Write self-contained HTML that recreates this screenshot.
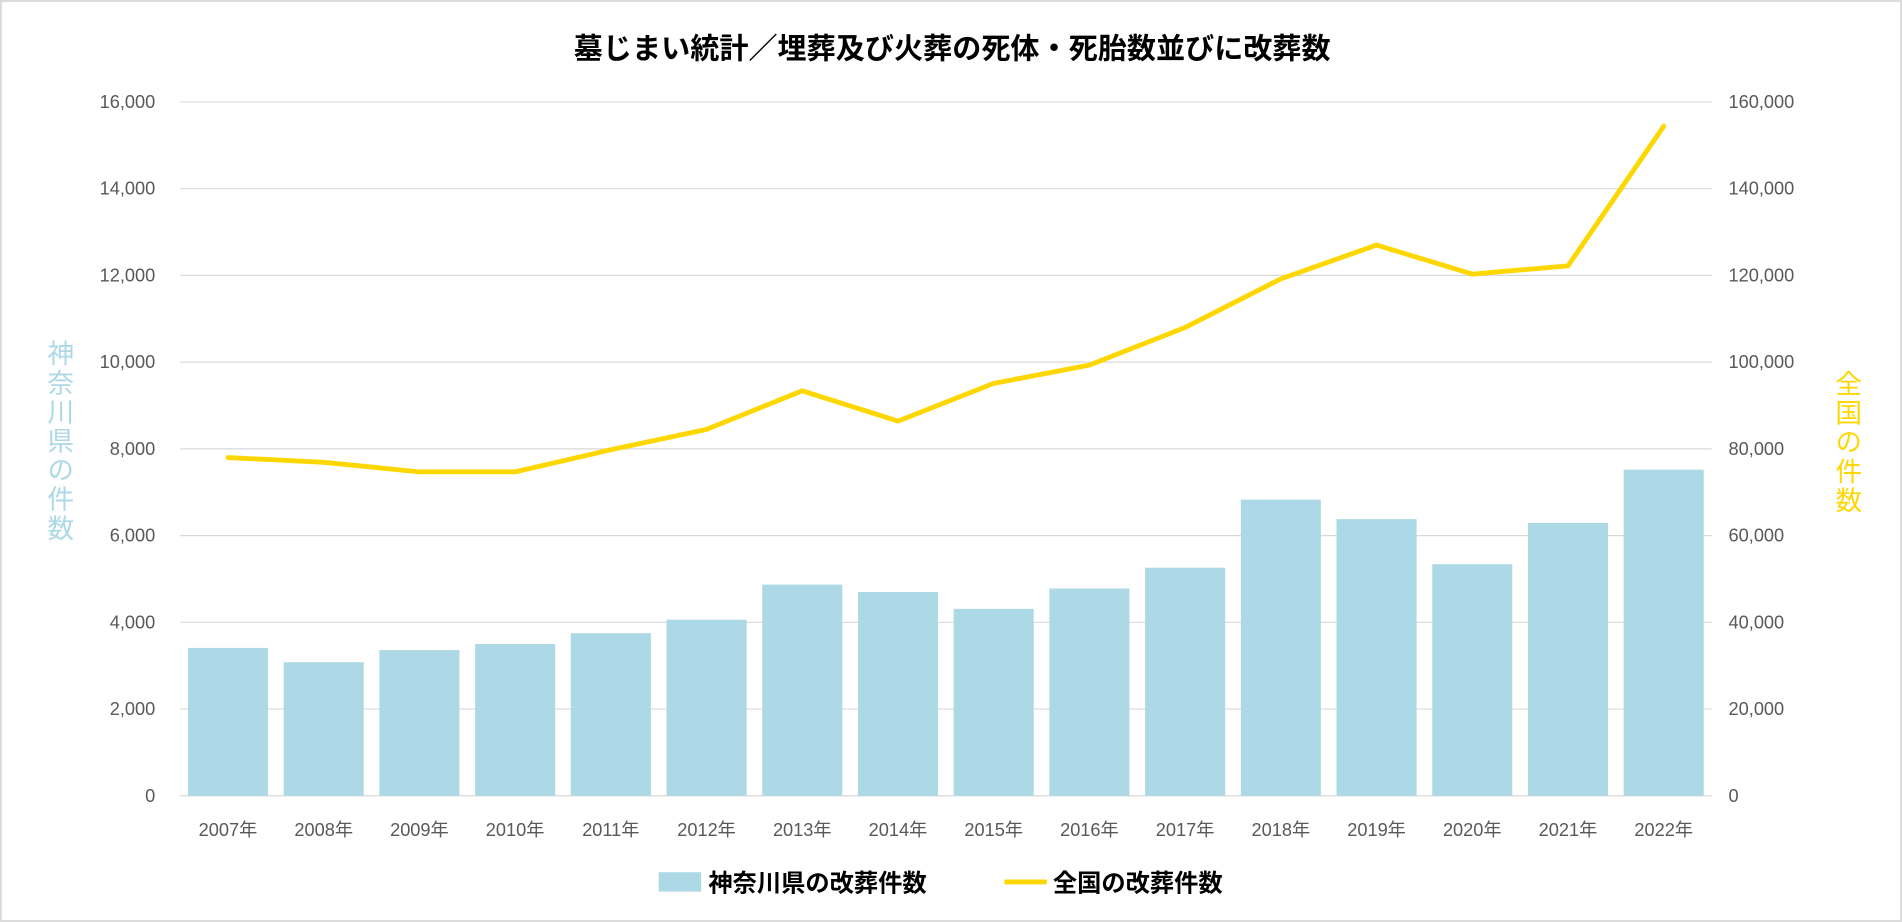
<!DOCTYPE html>
<html><head><meta charset="utf-8">
<style>
html,body{margin:0;padding:0;background:#fff;}
svg{display:block;font-family:"Liberation Sans","Noto Sans CJK JP",sans-serif;}
</style></head>
<body>
<svg id="chart" width="1902" height="922" viewBox="0 0 1568 760" xmlns="http://www.w3.org/2000/svg">
<rect x="0.75" y="0.75" width="1566.5" height="758.5" fill="#fff" stroke="#d9d9d9" stroke-width="1.5"/>
<text x="785" y="48" text-anchor="middle" font-size="24" font-weight="bold" fill="#000">墓じまい統計／埋葬及び火葬の死体・死胎数並びに改葬数</text>
<g id="grid"></g>
<g id="bars"></g>
<g id="line"></g>
<g id="ticks"></g>
<text font-size="22" fill="#add8e6" style="writing-mode:vertical-rl" x="48" y="280" letter-spacing="2">神奈川県の件数</text>
<text font-size="22" fill="#ffd700" style="writing-mode:vertical-rl" x="1522" y="305" letter-spacing="2">全国の件数</text>
<g>
<rect x="543" y="719" width="35" height="16" fill="#add8e6"/>
<text x="584" y="735" font-size="20" font-weight="bold" fill="#000">神奈川県の改葬件数</text>
<line x1="828" y1="727" x2="863" y2="727" stroke="#ffd700" stroke-width="4"/>
<text x="868" y="735" font-size="20" font-weight="bold" fill="#000">全国の改葬件数</text>
</g>
</svg>
<script>
const categories = ["2007年","2008年","2009年","2010年","2011年","2012年","2013年","2014年","2015年","2016年","2017年","2018年","2019年","2020年","2021年","2022年"];
const kanagawaValues = [3410,3080,3360,3500,3750,4060,4870,4700,4310,4780,5260,6830,6380,5340,6290,7520];
const nationalValues = [78000,76900,74700,74700,79800,84500,93400,86400,95100,99300,108000,119200,127000,120300,122200,154400];
const leftTicks = [0,2000,4000,6000,8000,10000,12000,14000,16000];
const rightTicks = [0,20000,40000,60000,80000,100000,120000,140000,160000];

const NS="http://www.w3.org/2000/svg";
const L=148.5,R=1411,T=84,B=656;
const bw=(R-L)/categories.length;
const xC=i=>L+bw*(i+0.5);
const yL=v=>B-(v/16000)*(B-T);
const yR=v=>B-(v/160000)*(B-T);
function mk(tag,attrs,parent){const e=document.createElementNS(NS,tag);for(const k in attrs)e.setAttribute(k,attrs[k]);parent.appendChild(e);return e;}
const grid=document.getElementById('grid'),bars=document.getElementById('bars'),line=document.getElementById('line'),ticks=document.getElementById('ticks');
const fmt=v=>v.toLocaleString('en-US');
leftTicks.forEach((v,i)=>{
  const g=mk('line',{x1:L,x2:R,y1:yL(v),y2:yL(v),stroke:'#d9d9d9','stroke-width':1},grid);
  
  
  const t=mk('text',{x:128,y:yL(v)+5,'text-anchor':'end','font-size':15,fill:'#595959'},ticks);
  
  
  t.textContent=fmt(v);
});
rightTicks.forEach(v=>{
  const t=mk('text',{x:1425,y:yR(v)+5,'text-anchor':'start','font-size':15,fill:'#595959'},ticks);
  
  
  t.textContent=fmt(v);
});
categories.forEach((c,i)=>{
  const w=66;
  const r=mk('rect',{x:xC(i)-w/2,y:yL(kanagawaValues[i]),width:w,height:B-yL(kanagawaValues[i]),fill:'#add8e6'},bars);
  
  
  const t=mk('text',{x:xC(i),y:689,'text-anchor':'middle','font-size':15,fill:'#595959'},ticks);
  
  
  t.textContent=c;
});
const pts=nationalValues.map((v,i)=>xC(i)+','+yR(v)).join(' ');
const pl=mk('polyline',{points:pts,fill:'none',stroke:'#ffd700','stroke-width':4,'stroke-linejoin':'round','stroke-linecap':'round'},line);


</script>
</body></html>
